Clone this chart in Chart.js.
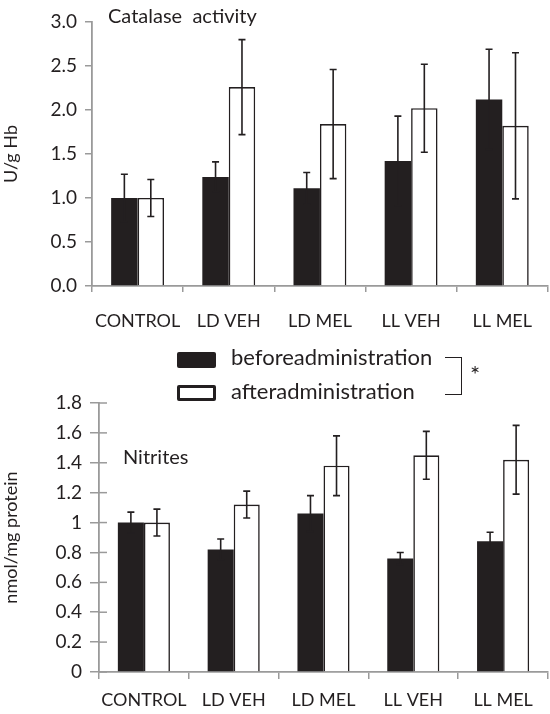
<!DOCTYPE html>
<html>
<head>
<meta charset="utf-8">
<script src="https://cdn.jsdelivr.net/npm/chart.js@4.4.1/dist/chart.umd.min.js"></script>
<style>
  body { margin: 0; background: #fff; width: 550px; height: 714px; position: relative; overflow: hidden;
         font-family: Lato, sans-serif; color: #231f20; }
  .box { position: absolute; }
  #legend { position: absolute; left: 0; top: 0; z-index: 5; font-size: 22px; }
  .sw { position: absolute; left: 177px; width: 39px; height: 16px; box-sizing: border-box; border-radius: 2px; }
  .lt { position: absolute; left: 231px; line-height: 22px; white-space: nowrap; }
</style>
</head>
<body>
<div class="box" style="left:0;top:0;width:550px;height:340px"><canvas id="catalase"></canvas></div>
<div class="box" style="left:0;top:380px;width:550px;height:334px"><canvas id="nitrites"></canvas></div>
<div id="legend">
  <div class="sw" style="top:352px;background:#231f20"></div>
  <div class="lt" style="top:346px">beforeadministration</div>
  <div class="sw" style="top:385px;border:3px solid #231f20;background:#fff"></div>
  <div class="lt" style="top:380px">afteradministration</div>
  <div style="position:absolute;left:445px;top:357px;width:16px;height:36px;border:1.5px solid #231f20;border-left:none"></div>
  <div style="position:absolute;left:470px;top:362px;font-size:24px;line-height:24px">*</div>
</div>
<script>
// Groups
const groups = ["CONTROL", "LD VEH", "LD MEL", "LL VEH", "LL MEL"];

// Catalase activity (U/g Hb)
const catalaseBefore = [1.00, 1.24, 1.11, 1.42, 2.12];
const catalaseBeforeErr = [0.27, 0.17, 0.18, 0.51, 0.57];
const catalaseAfter = [1.00, 2.26, 1.84, 2.02, 1.82];
const catalaseAfterErr = [0.21, 0.54, 0.62, 0.50, 0.83];
const catalaseTicks = ["0.0", "0.5", "1.0", "1.5", "2.0", "2.5", "3.0"];

// Nitrites (nmol/mg protein)
const nitritesBefore = [1.00, 0.82, 1.06, 0.76, 0.875];
const nitritesBeforeErr = [0.07, 0.07, 0.12, 0.04, 0.06];
const nitritesAfter = [1.00, 1.12, 1.38, 1.45, 1.42];
const nitritesAfterErr = [0.09, 0.09, 0.20, 0.16, 0.23];
const nitritesTicks = ["0", "0.2", "0.4", "0.6", "0.8", "1", "1.2", "1.4", "1.6", "1.8"];

const INK = "#231f20";
const AXIS = "#9a9a9a";
const FONT = "Lato, sans-serif";

// Draws error bars (and inner tick marks if asked)
const errorBars = {
  id: "errorBars",
  afterDatasetsDraw(chart, args, opts) {
    const ctx = chart.ctx;
    const y = chart.scales.y;
    ctx.save();
    ctx.strokeStyle = INK;
    ctx.lineWidth = 1.6;
    chart.data.datasets.forEach((ds, i) => {
      chart.getDatasetMeta(i).data.forEach((bar, j) => {
        const v = ds.data[j], e = ds.err[j];
        const top = y.getPixelForValue(v + e);
        const bot = y.getPixelForValue(v - e);
        ctx.beginPath();
        ctx.moveTo(bar.x, top); ctx.lineTo(bar.x, bot);
        ctx.moveTo(bar.x - 3.5, top); ctx.lineTo(bar.x + 3.5, top);
        ctx.moveTo(bar.x - 3.5, bot); ctx.lineTo(bar.x + 3.5, bot);
        ctx.stroke();
      });
    });
    if (opts.innerTicks) {
      ctx.strokeStyle = AXIS;
      ctx.lineWidth = 1.5;
      y.ticks.forEach(t => {
        const py = y.getPixelForValue(t.value);
        ctx.beginPath();
        ctx.moveTo(y.right, py); ctx.lineTo(y.right + opts.innerTicks, py);
        ctx.stroke();
      });
    }
    ctx.restore();
  }
};

// Panel title drawn inside the plot
const panelTitle = {
  id: "panelTitle",
  afterDraw(chart, args, opts) {
    const ctx = chart.ctx;
    ctx.save();
    ctx.fillStyle = INK;
    ctx.font = "20px " + FONT;
    ctx.textBaseline = "middle";
    ctx.fillText(opts.text, opts.x, opts.y);
    ctx.restore();
  }
};

function makeChart(id, before, beforeErr, after, afterErr, ticks, cfg) {
  return new Chart(document.getElementById(id), {
    type: "bar",
    data: {
      labels: groups,
      datasets: [
        { data: before, err: beforeErr, backgroundColor: INK, borderColor: INK, borderWidth: 0 },
        { data: after, err: afterErr, backgroundColor: "#fff", borderColor: INK, borderWidth: 1.6 }
      ]
    },
    options: {
      responsive: true,
      maintainAspectRatio: false,
      animation: false,
      categoryPercentage: 0.58,
      barPercentage: 1.0,
      layout: { padding: { top: cfg.padTop, right: cfg.padRight, left: 0, bottom: 0 } },
      plugins: {
        legend: { display: false },
        tooltip: { enabled: false },
        errorBars: { innerTicks: cfg.innerTicks },
        panelTitle: cfg.title
      },
      scales: {
        x: {
          afterFit(s) { s.height = cfg.xHeight; },
          grid: { display: true, drawOnChartArea: false, offset: true, color: AXIS, lineWidth: 1.5, tickLength: cfg.xTick },
          border: { color: AXIS, width: 1.8 },
          ticks: { color: INK, font: { family: FONT, size: 18 }, padding: cfg.xPad, maxRotation: 0, autoSkip: false }
        },
        y: {
          min: 0, max: cfg.max,
          afterFit(s) { s.width = cfg.yWidth; },
          grid: { drawOnChartArea: false, color: AXIS, lineWidth: 1.5, tickLength: cfg.yTick },
          border: { color: AXIS, width: 1.8 },
          ticks: {
            stepSize: cfg.step, color: INK, padding: cfg.yPad,
            font: { family: FONT, size: 19 },
            callback: (v, i) => ticks[i]
          },
          title: { display: true, text: cfg.yTitle, color: INK, font: { family: FONT, size: 18 }, padding: 0 }
        }
      }
    },
    plugins: [errorBars, panelTitle]
  });
}

makeChart("catalase", catalaseBefore, catalaseBeforeErr, catalaseAfter, catalaseAfterErr, catalaseTicks, {
  max: 3, step: 0.5, padTop: 22, padRight: 0, xHeight: 54, yWidth: 92, xTick: 6, yTick: 7, xPad: 18, yPad: 8,
  innerTicks: 0, yTitle: "U/g Hb", title: { text: "Catalase  activity", x: 108, y: 17 }
});

makeChart("nitrites", nitritesBefore, nitritesBeforeErr, nitritesAfter, nitritesAfterErr, nitritesTicks, {
  max: 1.8, step: 0.2, padTop: 23, padRight: 2, xHeight: 42, yWidth: 99, xTick: 7, yTick: 9, xPad: 10, yPad: 8,
  innerTicks: 8, yTitle: "nmol/mg protein", title: { text: "Nitrites", x: 123, y: 78 }
});
</script>
</body>
</html>
